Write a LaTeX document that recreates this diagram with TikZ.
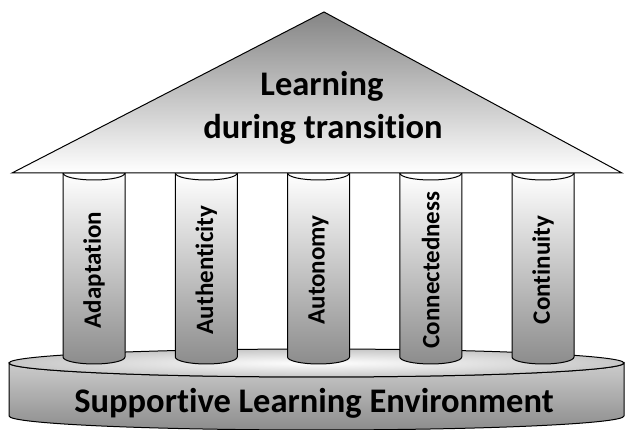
\documentclass[tikz,border=0pt]{standalone}
\usepackage{fontspec}
\setmainfont{Carlito}[Ligatures=NoCommon]

\begin{document}
\begin{tikzpicture}[x=1pt,y=1pt,line width=1pt,
		pillar/.style={draw=black,top color=white,bottom color=black!45},
		pillarlabel/.style={rotate=90,font=\bfseries\fontsize{25}{30}\selectfont},
		rooftext/.style={anchor=base,font=\bfseries\fontsize{34.5}{40}\selectfont}]
		%		\draw[step=10,black!20,thin] (0,0) grid (625,430);
		\useasboundingbox (0,0) rectangle (625,430);
		
		\draw[top color=black!20,bottom color=black!45] (9,67) -- (9,14) arc[start angle=180,end angle=360,x radius=307.5,y radius=14] -- (624,67) arc[start angle=0,end angle=-180,x radius=307.5,y radius=14] -- cycle;
		\draw[inner color=white,outer color=black!22] (316.5,67) ellipse[x radius=307.5,y radius=14];
		\node[anchor=base,font=\bfseries\fontsize{34.5}{40}\selectfont] (env) at (314,17) {Supportive Learning Environment};
		
		\foreach \i/\txt in {0/Adaptation,1/Authenticity,2/Autonomy,3/Connectedness,4/Continuity}{
			\pgfmathsetmacro{\cx}{94+112.25*\i}
			\draw[pillar] (\cx-31,257) -- (\cx-31,73) arc[start angle=180,end angle=360,x radius=31,y radius=7] -- (\cx+31,257) -- cycle;
			\draw (\cx-31,257) arc[start angle=180,end angle=360,x radius=31,y radius=7];
			\node[pillarlabel] (P\i) at (\cx,160) {\txt};
		}
		
		\draw[top color=black!48,bottom color=white] (12,257) -- (324,418) -- (622,257) -- cycle;
		\node[rooftext] (L1) at (322,334) {Learning};
		\node[rooftext] (L2) at (323,291) {during transition};
	\end{tikzpicture}
\end{document}
